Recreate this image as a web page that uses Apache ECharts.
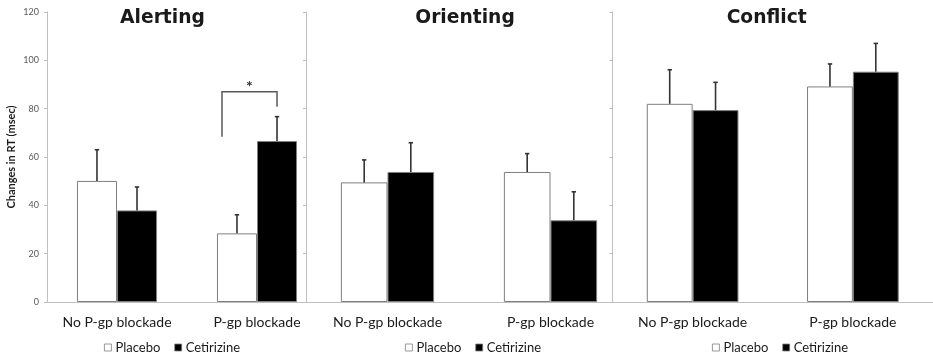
<!DOCTYPE html>
<html>
<head>
<meta charset="utf-8">
<script src="https://cdn.jsdelivr.net/npm/echarts@6/dist/echarts.min.js"></script>
<style>
  html, body { margin: 0; padding: 0; background: #fff; }
  #chart { width: 933px; height: 360px; }
</style>
</head>
<body>
<div id="chart"></div>
<script>
// Attention network effects: change in reaction time (msec), mean with SEM
const panelTitles = ['Alerting', 'Orienting', 'Conflict'];
const conditions = ['No P-gp blockade', 'P-gp blockade'];
const groupNames = ['Placebo', 'Cetirizine'];

const yMin = 0;
const yMax = 120;
const yStep = 20;

const alertingPlacebo = [50.1, 28.4];
const alertingPlaceboSem = [12.9, 7.7];
const alertingCetirizine = [37.9, 66.6];
const alertingCetirizineSem = [9.7, 10.1];

const orientingPlacebo = [49.5, 53.8];
const orientingPlaceboSem = [9.3, 7.6];
const orientingCetirizine = [53.8, 33.8];
const orientingCetirizineSem = [12.1, 11.8];

const conflictPlacebo = [82.0, 89.2];
const conflictPlaceboSem = [14.1, 9.3];
const conflictCetirizine = [79.4, 95.3];
const conflictCetirizineSem = [11.5, 11.7];

// significance bracket in the Alerting panel: category, bracket level, left leg end, right leg end
const alertingBracket = [1, 87.0, 68.4, 80.8];
const bracketMark = '*';

const panelData = [
  [alertingPlacebo, alertingPlaceboSem, alertingCetirizine, alertingCetirizineSem],
  [orientingPlacebo, orientingPlaceboSem, orientingCetirizine, orientingCetirizineSem],
  [conflictPlacebo, conflictPlaceboSem, conflictCetirizine, conflictCetirizineSem]
];

// layout
const gridLeft = [47, 306, 612.5];
const gridWidth = [280, 326, 326];
const gridTop = 12;
const gridHeight = 290;
const titleCenter = [157.5, 460, 761.7];
const legendLeft = [104, 405, 712];

const textFont = 'Lato, "Open Sans", sans-serif';
const axisGray = '#bfbfbf';
const barEdge = '#7f7f7f';
const whiskerColor = '#333333';
const BAR_FRAC = 0.143; // bar centre offset as fraction of band

function errorBarRenderer(side) {
  return function (params, api) {
    const cat = api.value(0);
    const mean = api.value(1);
    const sem = api.value(2);
    const base = api.coord([cat, mean]);
    const top = api.coord([cat, mean + sem]);
    const band = api.size([1, 0])[0];
    const x = base[0] + side * band * BAR_FRAC;
    const cap = 2.2;
    return {
      type: 'group',
      children: [
        { type: 'line', shape: { x1: x, y1: base[1], x2: x, y2: top[1] },
          style: { stroke: whiskerColor, lineWidth: 1.6 } },
        { type: 'line', shape: { x1: x - cap, y1: top[1], x2: x + cap, y2: top[1] },
          style: { stroke: whiskerColor, lineWidth: 1.6 } }
      ]
    };
  };
}

function bracketRenderer(params, api) {
  const cat = api.value(0);
  const c = api.coord([cat, api.value(1)]);
  const band = api.size([1, 0])[0];
  const xl = c[0] - band * 0.25;
  const xr = c[0] + band * BAR_FRAC;
  const yTop = c[1];
  const yl = api.coord([cat, api.value(2)])[1];
  const yr = api.coord([cat, api.value(3)])[1];
  return {
    type: 'group',
    children: [
      { type: 'polyline', shape: { points: [[xl, yl], [xl, yTop], [xr, yTop], [xr, yr]] },
        style: { stroke: '#595959', lineWidth: 1.5, fill: null } },
      { type: 'text', x: (xl + xr) / 2, y: yTop + 3,
        style: { text: bracketMark, textAlign: 'center', textVerticalAlign: 'bottom',
                 fontSize: 16, fontWeight: 'bold', fill: '#333', fontFamily: textFont } }
    ]
  };
}

const grids = [], xAxes = [], yAxes = [], series = [], titles = [], legends = [];

panelTitles.forEach(function (name, i) {
  grids.push({ left: gridLeft[i], top: gridTop, width: gridWidth[i], height: gridHeight, containLabel: false });
  xAxes.push({
    type: 'category', gridIndex: i, data: conditions, boundaryGap: true,
    axisLine: { lineStyle: { color: axisGray, width: 1 } },
    axisTick: { show: false },
    axisLabel: { interval: 0, fontSize: 14, color: '#1a1a1a', fontFamily: textFont, margin: 13 }
  });
  yAxes.push({
    type: 'value', gridIndex: i, min: yMin, max: yMax, interval: yStep,
    name: i === 0 ? 'Changes in RT (msec)' : '',
    nameLocation: 'middle', nameGap: 30, nameRotate: 90,
    nameTextStyle: { fontSize: 11, fontWeight: 'bold', color: '#1a1a1a', fontFamily: textFont },
    axisLine: { show: true, lineStyle: { color: axisGray, width: 1 } },
    axisTick: { show: true, length: 3, lineStyle: { color: axisGray } },
    axisLabel: { show: i === 0, fontSize: 9, color: '#595959', fontFamily: textFont, margin: 8 },
    splitLine: { show: false }
  });

  const d = panelData[i];
  series.push({
    name: groupNames[0], type: 'bar', xAxisIndex: i, yAxisIndex: i,
    data: d[0], barWidth: '28.6%', barGap: '0%',
    itemStyle: { color: '#ffffff', borderColor: barEdge, borderWidth: 1 }
  });
  series.push({
    name: groupNames[1], type: 'bar', xAxisIndex: i, yAxisIndex: i,
    data: d[2], barWidth: '28.6%', barGap: '0%',
    itemStyle: { color: '#000000', borderColor: barEdge, borderWidth: 1 }
  });
  series.push({
    type: 'custom', xAxisIndex: i, yAxisIndex: i, z: 5,
    renderItem: errorBarRenderer(-1),
    encode: { x: 0, y: 1 },
    data: d[0].map(function (v, k) { return [k, v, d[1][k]]; })
  });
  series.push({
    type: 'custom', xAxisIndex: i, yAxisIndex: i, z: 5,
    renderItem: errorBarRenderer(1),
    encode: { x: 0, y: 1 },
    data: d[2].map(function (v, k) { return [k, v, d[3][k]]; })
  });

  titles.push({
    text: name, left: titleCenter[i], top: 4, textAlign: 'center',
    textStyle: { fontSize: 18.7, fontWeight: 'bold', color: '#1a1a1a', fontFamily: '"DejaVu Sans", Verdana, sans-serif' }
  });
  legends.push({
    data: groupNames, left: legendLeft[i], top: 341, orient: 'horizontal', padding: 0,
    icon: 'rect', itemWidth: 7, itemHeight: 7, itemGap: 14,
    selectedMode: false,
    itemStyle: { borderWidth: 0.8 },
    textStyle: { fontSize: 13, color: '#1a1a1a', fontFamily: textFont, padding: [0, 0, 0, -1] }
  });
});

series.push({
  type: 'custom', xAxisIndex: 0, yAxisIndex: 0, z: 6,
  renderItem: bracketRenderer,
  encode: { x: 0, y: 1 },
  data: [alertingBracket]
});

const chart = echarts.init(document.getElementById('chart'), null, { renderer: 'canvas' });
chart.setOption({
  backgroundColor: '#ffffff',
  animation: false,
  title: titles,
  legend: legends,
  grid: grids,
  xAxis: xAxes,
  yAxis: yAxes,
  series: series
});
</script>
</body>
</html>
